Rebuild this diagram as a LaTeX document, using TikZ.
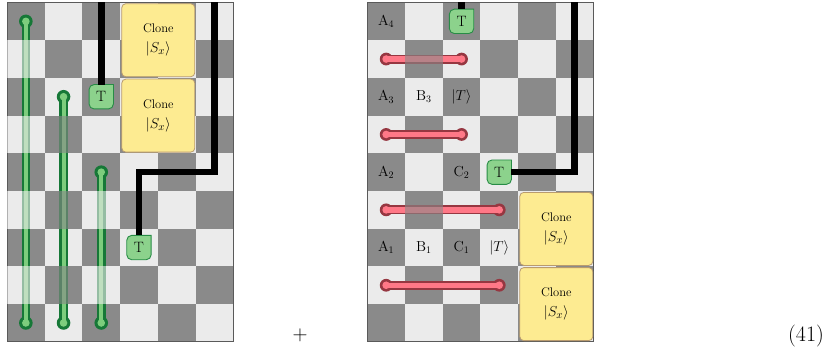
\documentclass[tikz,border=0pt]{standalone}
\usepackage{amsmath}
\definecolor{cdark}{RGB}{138,138,138}
\definecolor{clight}{RGB}{235,235,235}
\definecolor{bline}{RGB}{90,90,90}
\definecolor{gdark}{RGB}{22,120,55}
\definecolor{glight}{RGB}{125,205,125}
\definecolor{tfill}{RGB}{140,210,140}
\definecolor{tborder}{RGB}{40,140,70}
\definecolor{rdark}{RGB}{150,55,65}
\definecolor{rpink}{RGB}{255,120,135}
\definecolor{yfill}{RGB}{253,235,145}
\definecolor{yborder}{RGB}{185,155,110}
\newcommand\cloneket{{\fontsize{15.5}{17}\selectfont$|S_x\rangle$}}
\begin{document}
\begin{tikzpicture}[x=1pt,y=-1pt,
  boardline/.style={draw=bline,line width=0.9pt},
  gout/.style={draw=gdark,line width=8.5pt},
  gin/.style={draw=glight,line width=4pt},
  rout/.style={draw=rdark,line width=9pt},
  rin/.style={draw=rpink,line width=5.3pt},
  blk/.style={draw=black,line width=6.5pt,line join=miter,line cap=butt},
  tsize/.style={minimum width=24pt,minimum height=24pt,inner sep=0pt},
  tgate/.style={fill=tfill,draw=tborder,line width=0.9pt},
  ttext/.style={inner sep=0pt,font=\fontsize{15}{17}\selectfont},
  clone/.style={draw=yborder,fill=yfill,rounded corners=4pt,minimum width=73pt,minimum height=73pt,inner sep=0pt,align=center,line width=0.8pt,font=\fontsize{12.5}{14}\selectfont},
  lab/.style={inner sep=0pt,font=\fontsize{14.5}{16}\selectfont},
  eqtext/.style={inner sep=0pt,font=\fontsize{22}{25}\selectfont,anchor=base}
]
\def\CS{37.7}
\useasboundingbox (0,0) rectangle (840,350);
% boards
\foreach \ox in {7,367.3}{
  \foreach \i in {0,...,5}{
    \foreach \j in {0,...,8}{
      \pgfmathtruncatemacro\cpar{mod(\i+\j,2)}
      \ifnum\cpar=0
        \fill[cdark] ({\ox+\i*\CS},{2.5+\j*\CS}) rectangle ++(\CS,\CS);
      \else
        \fill[clight] ({\ox+\i*\CS},{2.5+\j*\CS}) rectangle ++(\CS,\CS);
      \fi
    }
  }
  \draw[boardline] (\ox,2.5) rectangle ++({6*\CS},{9*\CS});
}
% green lines
\coordinate (g0a) at (25.85,21.35);  \coordinate (g0b) at (25.85,322.95);
\coordinate (g1a) at (63.55,96.75);  \coordinate (g1b) at (63.55,322.95);
\coordinate (g2a) at (101.25,172.15); \coordinate (g2b) at (101.25,322.95);
\foreach \a/\b in {g0a/g0b,g1a/g1b,g2a/g2b}{
  \draw[gout] (\a) -- (\b);
  \fill[gdark] (\a) circle[radius=6.8pt] (\b) circle[radius=6.8pt];
  \draw[gin] (\a) -- (\b);
  \fill[glight] (\a) circle[radius=3.8pt] (\b) circle[radius=3.8pt];
}
% red lines
\coordinate (r1a) at (386.15,59.05);  \coordinate (r1b) at (461.55,59.05);
\coordinate (r3a) at (386.15,134.45); \coordinate (r3b) at (461.55,134.45);
\coordinate (r5a) at (386.15,209.85); \coordinate (r5b) at (499.25,209.85);
\coordinate (r7a) at (386.15,285.25); \coordinate (r7b) at (499.25,285.25);
\foreach \a/\b in {r1a/r1b,r3a/r3b,r5a/r5b,r7a/r7b}{
  \draw[rout] (\a) -- (\b);
  \fill[rdark] (\a) circle[radius=6.4pt] (\b) circle[radius=6.4pt];
  \draw[rin] (\a) -- (\b);
  \fill[rpink] (\a) circle[radius=3.8pt] (\b) circle[radius=3.8pt];
}
% faded crossings
\foreach \ox/\i/\j/\c in {7/0/1/clight,7/0/3/clight,7/0/5/clight,7/0/7/clight,
  7/1/3/cdark,7/1/5/cdark,7/1/7/cdark,7/2/5/clight,7/2/7/clight,
  367.3/1/1/cdark,367.3/1/5/cdark}{
  \fill[\c,opacity=0.6] ({\ox+\i*\CS},{2.5+\j*\CS}) rectangle ++(\CS,\CS);
}
% T gates
\foreach \n/\x/\y in {t1/101.25/96.75,t2/138.95/247.55,t3/461.55/21.35,t4/499.25/172.15}{
  \node[tsize] (\n) at (\x,\y) {};
  \filldraw[tgate] (\n.east) -- (\n.north east) -- (\n.north) [rounded corners=5pt] -- (\n.north west) -- (\n.south west) -- (\n.south east) -- cycle;
  \node[ttext] (\n x) at (\n.center) {T};
}
% black lines
\coordinate (l1top) at (101.25,2.5);
\coordinate (l2top) at (214.35,2.5);
\coordinate (l2c1) at (214.35,172.15);
\coordinate (l2c2) at (138.95,172.15);
\coordinate (r1top) at (461.55,2.5);
\coordinate (r2c) at (574.65,172.15);
\coordinate (r2top) at (574.65,2.5);
\draw[blk] (l1top) -- (t1.north);
\draw[blk] (l2top) -- (l2c1) -- (l2c2) -- (t2.north);
\draw[blk] (r1top) -- (t3.north);
\draw[blk] (t4.east) -- (r2c) -- (r2top);
% clone boxes
\node[clone] (c1) at (158.3,40.2) {Clone\\[6pt]\cloneket};
\node[clone] (c2) at (158.3,115.6) {Clone\\[6pt]\cloneket};
\node[clone] (c3) at (556.3,228.9) {Clone\\[6pt]\cloneket};
\node[clone] (c4) at (556.3,304.1) {Clone\\[6pt]\cloneket};
% labels
\node[lab] (a4) at (386.15,21.35) {A$_4$};
\node[lab] (a3) at (386.15,96.75) {A$_3$};
\node[lab] (b3) at (423.85,96.75) {B$_3$};
\node[lab] (k3) at (461.55,96.75) {$|T\rangle$};
\node[lab] (a2) at (386.15,172.15) {A$_2$};
\node[lab] (cc2) at (461.55,172.15) {C$_2$};
\node[lab] (a1) at (386.15,247.55) {A$_1$};
\node[lab] (b1) at (423.85,247.55) {B$_1$};
\node[lab] (cc1) at (461.55,247.55) {C$_1$};
\node[lab] (k1) at (499.25,247.55) {$|T\rangle$};
% equation parts
\node[eqtext] (plus) at (300,340) {$+$};
\node[eqtext] (eqn) at (806,341) {(41)};
\end{tikzpicture}
\end{document}
